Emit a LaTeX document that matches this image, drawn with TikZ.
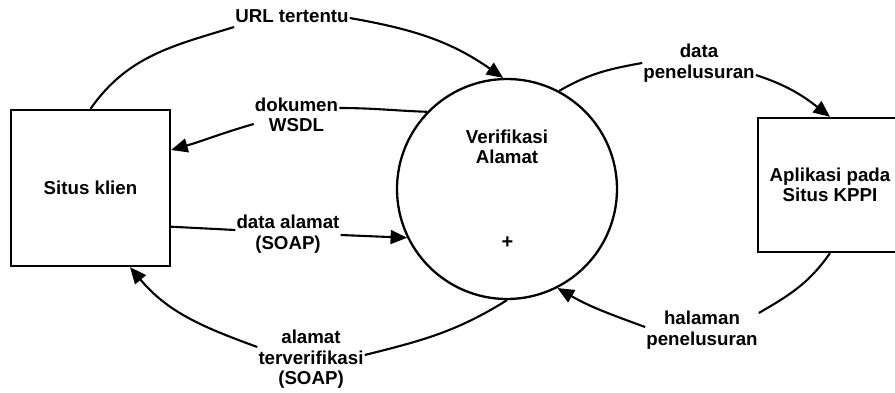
\documentclass[tikz,border=0pt]{standalone}
\usepackage{fontspec}
\setmainfont{Liberation Sans}
\usetikzlibrary{arrows.meta}
\begin{document}
\begin{tikzpicture}[x=1pt,y=-1pt,
  every node/.style={font=\bfseries\fontsize{18.7}{20.5}\selectfont},
  entity/.style={draw,line width=2.3pt,rectangle,inner sep=0pt,align=center},
  process/.style={draw,line width=2.3pt,circle,inner sep=0pt,minimum size=220pt},
  flowlabel/.style={align=center,inner sep=1pt},
  flow/.style={line width=2.1pt},
  flowarrow/.style={flow,-{Triangle[length=16.5pt,width=14pt]}}]
\useasboundingbox (0,0) rectangle (895,392);
\clip (0,0) rectangle (895,392);

% external entities and the process
\node[entity,minimum width=159pt,minimum height=156pt] (klien) at (90.5,188) {Situs klien};
\node[entity,minimum width=144pt,minimum height=134pt] (kppi) at (830,185) {Aplikasi pada\\Situs KPPI};
\node[process] (verif) at (507,189) {};
\node[flowlabel] (veriftext) at (507,147) {Verifikasi\\Alamat};
\node[inner sep=0pt,font=\bfseries\fontsize{20}{20}\selectfont] (plus) at (507.5,242.5) {+};

% flow labels
\node[flowlabel] (url) at (292,16) {URL tertentu};
\node[flowlabel] (dok) at (296.5,115) {dokumen\\WSDL};
\node[flowlabel] (dal) at (288,234) {data alamat\\(SOAP)};
\node[flowlabel] (atv) at (311,359.5) {alamat\\terverifikasi\\(SOAP)};
\node[flowlabel] (dpn) at (699,63) {data\\penelusuran};
\node[flowlabel] (hpn) at (702,330) {halaman\\penelusuran};

% URL tertentu
\draw[flow] (klien.north) to[out=55,in=197] ([yshift=-11pt]url.west);
\draw[flowarrow] ([yshift=-2pt]url.east) to[out=-10,in=145] (verif.92);

% dokumen WSDL
\draw[flow] (verif.136) to[out=178,in=0] ([yshift=7pt]dok.east);
\draw[flowarrow] ([yshift=-9pt]dok.west) to[out=196,in=16] ([yshift=38pt]klien.east);

% data alamat (SOAP)
\draw[flow] ([yshift=-38.7pt]klien.east) -- ([yshift=4pt]dal.west);
\draw[flowarrow] ([yshift=-1pt]dal.east) -- (verif.206);

% alamat terverifikasi (SOAP)
\draw[flow] (verif.270) to[out=212,in=14] ([yshift=4.5pt]atv.east);
\draw[flowarrow] ([yshift=12.5pt]atv.west) to[out=160,in=-50] ([xshift=39.5pt]klien.south);

% data penelusuran
\draw[flow] (verif.62) to[out=30,in=190] (dpn.west);
\draw[flowarrow] ([yshift=-12pt]dpn.east) to[out=-18,in=142] (kppi.north);

% halaman penelusuran
\draw[flow] (kppi.south) to[out=235,in=30] ([yshift=17pt]hpn.east);
\draw[flowarrow] ([yshift=3pt]hpn.west) to[out=160,in=-30] (verif.297);
\end{tikzpicture}
\end{document}
